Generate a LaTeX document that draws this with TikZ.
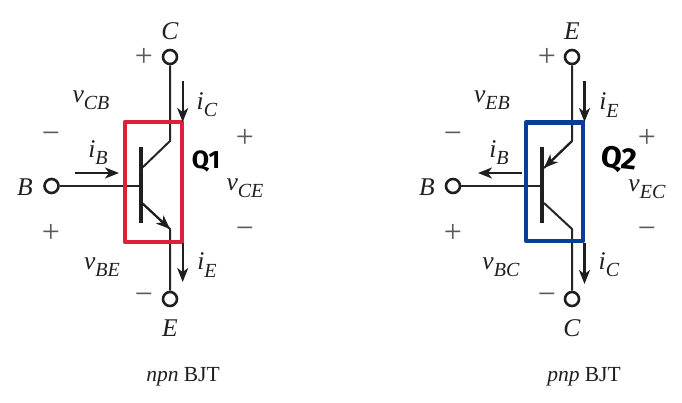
\documentclass[tikz,border=0pt]{standalone}
\usepackage{fontspec}
\setmainfont{Liberation Serif}
\newfontfamily\handfont{Fira Sans}
\usetikzlibrary{arrows.meta}
\newcommand{\lab}[2]{\textit{#1}\raisebox{-0.28em}{\fontsize{20}{20}\selectfont\textit{#2}}}
\definecolor{boxred}{RGB}{221,32,60}
\definecolor{boxblue}{RGB}{10,62,150}
\tikzset{
  x=1pt,y=-1pt,
  txt/.style={inner sep=0pt,text=black!88,font=\fontsize{25.5}{25.5}\selectfont},
  captext/.style={inner sep=0pt,text=black!88,font=\fontsize{21.5}{24}\selectfont},
  sgn/.style={inner sep=0pt,text=black!65,font=\fontsize{32}{32}\selectfont},
  hand/.style={inner sep=0pt,text=black,font=\handfont\bfseries\fontsize{25}{25}\selectfont},
  bighand/.style={inner sep=0pt,text=black,font=\handfont\bfseries\fontsize{30}{30}\selectfont},
  term/.style={circle,draw=black!88,line width=2.6pt,fill=white,minimum size=14pt,inner sep=0pt},
  lead/.style={draw=black!85,line width=2pt,line join=round},
  thinlead/.style={draw=black!85,line width=1.4pt},
  barline/.style={draw=black!88,line width=4.2pt},
  cur/.style={draw=black!88,line width=2.1pt,-{Stealth[length=14pt,width=11pt,inset=4pt]}},
  bjtarrow/.style={draw=black!88,line width=2pt,-{Stealth[length=14pt,width=11pt,inset=4pt]}},
  redbox/.style={draw=boxred,line width=4.4pt,line join=round},
  bluebox/.style={draw=boxblue,line width=4.4pt,line join=round}
}
\begin{document}
\begin{tikzpicture}
\useasboundingbox (0,0) rectangle (682,402);
% ---------- npn
\node[term] (C1) at (170,57) {};
\node[term] (E1) at (170,299) {};
\node[term] (B1) at (51.5,186) {};
\coordinate (C1k) at (170,141);
\coordinate (C1b) at (142,168);
\coordinate (E1k) at (170,229);
\coordinate (E1b) at (142,203);
\coordinate (B1b) at (141,186);
\coordinate (bar1t) at (141,147);
\coordinate (bar1b) at (141,223);
\draw[lead] (C1) -- (C1k) -- (C1b);
\draw[lead] (E1) -- (E1k) -- (E1b);
\draw[bjtarrow] (E1b) -- (E1k);
\draw[lead] (B1) -- (B1b);
\draw[barline] (bar1t) -- (bar1b);
\node[minimum width=57pt,minimum height=120pt,inner sep=0pt,redbox,anchor=north west,outer sep=0pt] (box1) at (125,122) {};
\coordinate (ic1a) at (182.7,81); \coordinate (ic1b) at (182.7,122);
\coordinate (ie1a) at (182.7,243); \coordinate (ie1b) at (182.7,282);
\coordinate (ib1a) at (75,173); \coordinate (ib1b) at (119,173);
\draw[cur] (ic1a) -- (ic1b);
\draw[cur] (ie1a) -- (ie1b);
\draw[cur] (ib1a) -- (ib1b);
\node[txt] (lC1) at (170,31) {\textit{C}};
\node[txt] (lE1) at (170,328) {\textit{E}};
\node[txt] (lB1) at (25,187) {\textit{B}};
\node[sgn] (p1) at (144,57) {+};
\node[sgn] (m1) at (144,299) {−};
\node[txt] (vcb) at (91,100) {\lab{v}{CB}};
\node[txt] (vbe) at (102,267) {\lab{v}{BE}};
\node[txt] (ic1) at (207,105) {\lab{i}{C}};
\node[txt] (ie1) at (207,265) {\lab{i}{E}};
\node[txt] (ib1) at (98,153) {\lab{i}{B}};
\node[txt] (vce) at (245,188) {\lab{v}{CE}};
\node[sgn] (p2) at (245,138) {+};
\node[sgn] (m2) at (245,233) {−};
\node[sgn] (m3) at (51,138) {−};
\node[sgn] (p3) at (51,233) {+};
\node[hand] (q1) at (206,161) {Q1};
\node[captext] (c1) at (183,377) {\textit{npn} BJT};
% ---------- pnp
\node[term] (E2) at (572,57) {};
\node[term] (C2) at (572,299) {};
\node[term] (B2) at (453,186) {};
\coordinate (E2k) at (572,141);
\coordinate (E2b) at (544,168);
\coordinate (C2k) at (572,229);
\coordinate (C2b) at (544,203);
\coordinate (B2b) at (542,186);
\coordinate (bar2t) at (542,147);
\coordinate (bar2b) at (542,223);
\draw[lead] (E2) -- (E2k) -- (E2b);
\draw[bjtarrow] (E2k) -- (E2b);
\draw[lead] (C2) -- (C2k) -- (C2b);
\draw[thinlead] (B2) -- (B2b);
\draw[barline] (bar2t) -- (bar2b);
\node[minimum width=57pt,minimum height=118.5pt,inner sep=0pt,bluebox,anchor=north west,outer sep=0pt] (box2) at (526,122.5) {};
\coordinate (ie2a) at (584.5,81); \coordinate (ie2b) at (584.5,122);
\coordinate (ic2a) at (584.5,243); \coordinate (ic2b) at (584.5,284);
\coordinate (ib2a) at (522,173); \coordinate (ib2b) at (478,173);
\draw[cur] (ie2a) -- (ie2b);
\draw[cur] (ic2a) -- (ic2b);
\draw[cur] (ib2a) -- (ib2b);
\node[txt] (lE2) at (572,31) {\textit{E}};
\node[txt] (lC2) at (572,328) {\textit{C}};
\node[txt] (lB2) at (427,187) {\textit{B}};
\node[sgn] (p4) at (547,57) {+};
\node[sgn] (m4) at (547,299) {−};
\node[txt] (veb) at (492,100) {\lab{v}{EB}};
\node[txt] (vbc) at (501,267) {\lab{v}{BC}};
\node[txt] (ie2) at (609,105) {\lab{i}{E}};
\node[txt] (ic2) at (609,265) {\lab{i}{C}};
\node[txt] (ib2) at (499,153) {\lab{i}{B}};
\node[txt] (vec) at (647,189) {\lab{v}{EC}};
\node[sgn] (p5) at (647,138) {+};
\node[sgn] (m5) at (647,233) {−};
\node[sgn] (m6) at (453,138) {−};
\node[sgn] (p6) at (453,233) {+};
\node[bighand,rotate=-6] (q2) at (619,160) {Q2};
\node[captext] (c2) at (584,377) {\textit{pnp} BJT};
\end{tikzpicture}
\end{document}
